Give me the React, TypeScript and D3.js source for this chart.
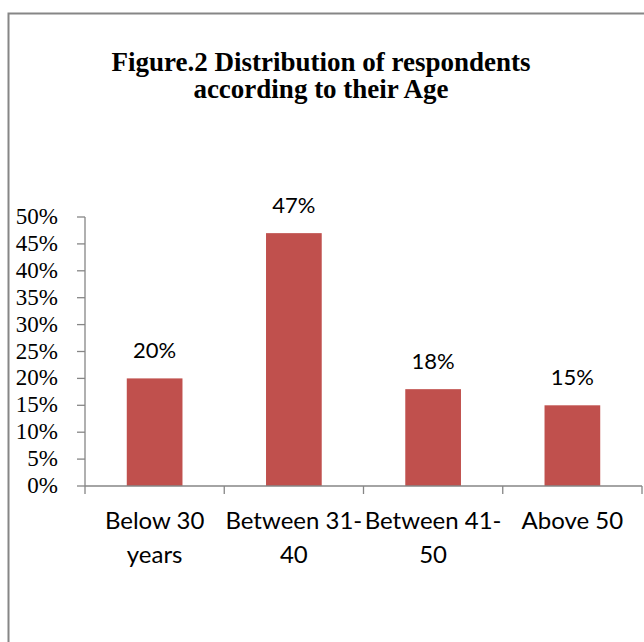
import * as d3 from "d3";

const categories = [
  ["Below 30", "years"],
  ["Between 31-", "40"],
  ["Between 41-", "50"],
  ["Above 50"],
];
const values = [20, 47, 18, 15];
const yTicks = [0, 5, 10, 15, 20, 25, 30, 35, 40, 45, 50];
const titleLines = ["Figure.2 Distribution of respondents", "according to their Age"];

const width = 644;
const height = 642;
const margin = { top: 217, right: 2, bottom: 156, left: 85 };

export default function App() {
  const keys = categories.map((c) => c.join(" "));
  const x = d3
    .scaleBand()
    .domain(keys)
    .range([margin.left, width - margin.right])
    .paddingInner(0.6)
    .paddingOuter(0.3);
  const y = d3
    .scaleLinear()
    .domain([0, 50])
    .range([height - margin.bottom, margin.top]);

  const step = x.step();
  const bounds = d3.range(keys.length + 1).map((i) => margin.left + i * step);
  const axisColor = "#868686";
  const mid = (k: string) => (x(k) || 0) + x.bandwidth() / 2;

  return (
    <svg
      width={width}
      height={height}
      style={{ position: "absolute", left: 0, top: 0, background: "#fff" }}
    >
      <rect x={8.5} y={13.5} width={700} height={700} fill="#fff" stroke={axisColor} strokeWidth={2} />

      <g fontFamily="'Liberation Serif', 'Times New Roman', serif" fontWeight="bold" fontSize={27} textAnchor="middle">
        {titleLines.map((t, i) => (
          <text key={i} x={321} y={71 + i * 27}>
            {t}
          </text>
        ))}
      </g>

      {/* bars */}
      {values.map((v, i) => (
        <rect
          key={i}
          x={x(keys[i])}
          y={y(v)}
          width={x.bandwidth()}
          height={y(0) - y(v)}
          fill="#C0504D"
        />
      ))}

      {/* data labels */}
      <g fontFamily="Lato, sans-serif" fontSize={22} textAnchor="middle" fill="#000">
        {values.map((v, i) => (
          <text key={i} x={mid(keys[i])} y={y(v) - 20}>
            {v}%
          </text>
        ))}
      </g>

      {/* y axis */}
      <line x1={margin.left} x2={margin.left} y1={y(50)} y2={y(0)} stroke={axisColor} strokeWidth={1.3} />
      {yTicks.map((t) => (
        <g key={t}>
          <line x1={margin.left - 8} x2={margin.left} y1={y(t)} y2={y(t)} stroke={axisColor} strokeWidth={1.3} />
          <text
            x={58}
            y={y(t) + 7}
            textAnchor="end"
            fontFamily="'Liberation Serif', 'Times New Roman', serif"
            fontSize={23}
          >
            {t}%
          </text>
        </g>
      ))}

      {/* x axis */}
      <line x1={margin.left} x2={width - margin.right} y1={y(0)} y2={y(0)} stroke={axisColor} strokeWidth={1.3} />
      {bounds.map((b, i) => (
        <line key={i} x1={b} x2={b} y1={y(0)} y2={y(0) + 8} stroke={axisColor} strokeWidth={1.3} />
      ))}
      <g fontFamily="Lato, sans-serif" fontSize={24} textAnchor="middle">
        {categories.map((c, i) => (
          <text key={i} x={mid(keys[i])} y={y(0) + 43}>
            {c.map((line, j) => (
              <tspan key={j} x={mid(keys[i])} dy={j === 0 ? 0 : 34}>
                {line}
              </tspan>
            ))}
          </text>
        ))}
      </g>
    </svg>
  );
}
